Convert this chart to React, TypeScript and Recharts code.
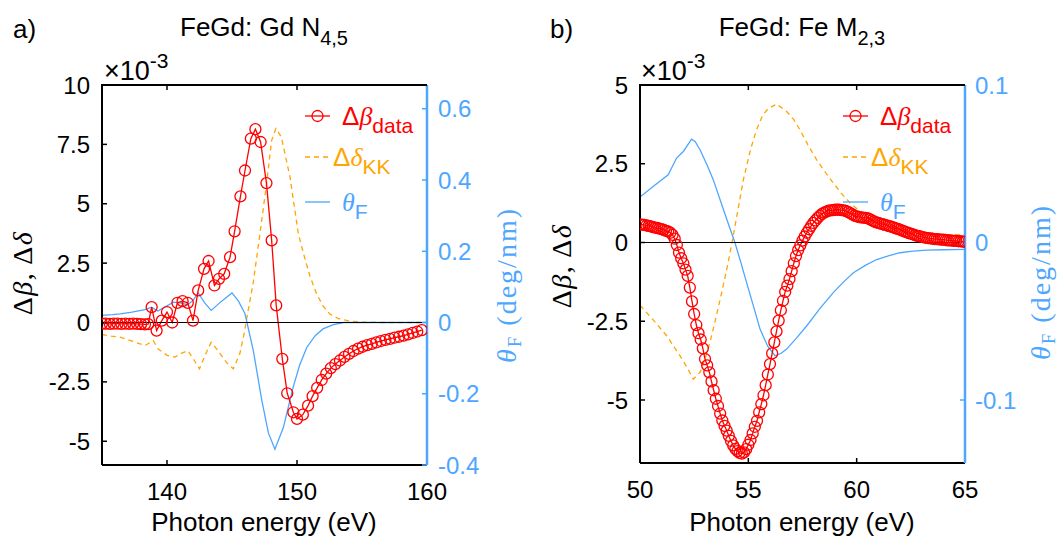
import React from 'react'
import { ComposedChart, Line, XAxis, YAxis, ReferenceLine, Legend } from 'recharts'

const RED = '#ff0000'
const ORANGE = '#ffa500'
const BLUE = '#4da6ff'
const SANS = '"Liberation Sans", Arial, Helvetica, sans-serif'
const SERIF = '"Liberation Serif", "Times New Roman", serif'

// a) FeGd: Gd N4,5 edge  [energy eV, value]
const gdBeta: [number, number][] = [
  [135.0, -0.05], [135.3, -0.05], [135.6, -0.06], [135.9, -0.05], [136.2, -0.05], [136.5, -0.06],
  [136.8, -0.05], [137.1, -0.06], [137.4, -0.05], [137.7, -0.06], [138.0, -0.07], [138.3, -0.08],
  [138.55, -0.07], [138.82, 0.65], [139.2, -0.34], [139.6, 0.08], [140.0, 0.44], [140.4, 0.0],
  [140.8, 0.83], [141.2, 0.9], [141.6, 0.83], [142.0, 0.08], [142.4, 1.35], [142.85, 2.26],
  [143.2, 2.59], [143.65, 1.56], [144.0, 1.84], [144.4, 2.05], [144.85, 2.75], [145.2, 3.84],
  [145.65, 5.31], [146.0, 6.4], [146.45, 7.74], [146.8, 8.14], [147.2, 7.6], [147.65, 5.87],
  [148.05, 3.46], [148.4, 0.72], [148.87, -1.53], [149.25, -2.98], [149.72, -3.78], [150.0, -4.06],
  [150.45, -3.88], [150.85, -3.5], [151.2, -3.1], [151.55, -2.75], [151.9, -2.42], [152.25, -2.15],
  [152.6, -1.92], [152.95, -1.75], [153.3, -1.6], [153.65, -1.45], [154.0, -1.32], [154.35, -1.2],
  [154.7, -1.1], [155.05, -1.02], [155.4, -0.95], [155.75, -0.9], [156.1, -0.84], [156.45, -0.78],
  [156.8, -0.73], [157.15, -0.69], [157.5, -0.64], [157.85, -0.6], [158.2, -0.55], [158.55, -0.5],
  [158.9, -0.44], [159.25, -0.38], [159.6, -0.32],
]
const gdKk: [number, number][] = [
  [135.0, -0.51], [135.7, -0.57], [136.4, -0.62], [137.3, -0.78], [138.3, -0.97], [138.95, -0.76],
  [139.3, -1.11], [140.0, -1.38], [140.6, -1.46], [141.1, -1.3], [141.6, -1.18], [142.1, -1.6],
  [142.5, -1.95], [142.95, -1.35], [143.4, -0.83], [143.8, -1.1], [144.1, -1.32], [144.6, -1.7],
  [145.1, -1.95], [145.6, -1.32], [145.98, -0.34], [146.13, 0.16], [146.64, 1.7], [147.15, 3.74],
  [147.67, 5.9], [148.05, 7.67], [148.38, 8.17], [148.8, 7.8], [149.46, 6.13], [150.1, 3.74],
  [150.5, 2.9], [151.0, 1.95], [151.5, 1.21], [152.0, 0.7], [152.5, 0.37], [153.2, 0.16],
  [154.1, 0.06], [155.0, 0.02], [156.5, 0.0], [158.0, 0.0], [160.0, 0.0],
]
const gdFaraday: [number, number][] = [
  [135.0, 0.02], [135.8, 0.022], [136.4, 0.0245], [137.3, 0.029], [138.3, 0.036], [138.8, 0.043],
  [139.3, 0.032], [139.9, 0.045], [140.5, 0.057], [141.0, 0.055], [141.6, 0.05], [142.0, 0.062],
  [142.4, 0.083], [142.9, 0.055], [143.4, 0.034], [144.2, 0.06], [145.0, 0.083], [145.5, 0.06],
  [146.0, 0.0245], [146.64, -0.079], [147.3, -0.22], [147.8, -0.31], [148.3, -0.356], [148.95, -0.295],
  [149.7, -0.182], [150.2, -0.12], [150.75, -0.07], [151.4, -0.037], [152.0, -0.018], [152.8, -0.006],
  [153.6, 0.0], [155.0, 0.0], [157.0, 0.0], [160.0, 0.0],
]
const gdXTicks = [140, 150, 160]
const gdLeftTicks = [-5, -2.5, 0, 2.5, 5, 7.5, 10]
const gdRightTicks = [-0.4, -0.2, 0, 0.2, 0.4, 0.6]

// b) FeGd: Fe M2,3 edge
const feBeta: [number, number][] = [
  [50.0, 0.57], [50.1, 0.57], [50.2, 0.56], [50.3, 0.54], [50.4, 0.53], [50.5, 0.51], [50.6, 0.49],
  [50.7, 0.47], [50.8, 0.46], [50.9, 0.44], [51.0, 0.42], [51.1, 0.4], [51.2, 0.37], [51.3, 0.35],
  [51.4, 0.31], [51.5, 0.24], [51.6, 0.12], [51.7, -0.08], [51.8, -0.32], [51.9, -0.5], [52.0, -0.66],
  [52.1, -0.86], [52.2, -1.06], [52.3, -1.43], [52.4, -1.87], [52.5, -2.27], [52.6, -2.62], [52.7, -2.88],
  [52.8, -3.08], [52.9, -3.36], [53.0, -3.7], [53.1, -3.9], [53.2, -4.12], [53.3, -4.41], [53.4, -4.69],
  [53.5, -4.96], [53.6, -5.19], [53.7, -5.43], [53.8, -5.65], [53.9, -5.82], [54.0, -5.97], [54.1, -6.14],
  [54.2, -6.3], [54.3, -6.44], [54.4, -6.55], [54.5, -6.62], [54.6, -6.68], [54.7, -6.7], [54.8, -6.66],
  [54.9, -6.56], [55.0, -6.42], [55.1, -6.27], [55.2, -6.06], [55.3, -5.85], [55.4, -5.66], [55.5, -5.39],
  [55.6, -5.13], [55.7, -4.85], [55.8, -4.53], [55.9, -4.19], [56.0, -3.86], [56.1, -3.52], [56.2, -3.17],
  [56.3, -2.82], [56.4, -2.48], [56.5, -2.15], [56.6, -1.85], [56.7, -1.57], [56.8, -1.37], [56.9, -1.16],
  [57.0, -0.91], [57.1, -0.66], [57.2, -0.43], [57.3, -0.24], [57.4, -0.09], [57.5, 0.06], [57.6, 0.19],
  [57.7, 0.31], [57.8, 0.42], [57.9, 0.53], [58.0, 0.62], [58.1, 0.7], [58.2, 0.78], [58.3, 0.85],
  [58.4, 0.91], [58.5, 0.95], [58.6, 0.98], [58.7, 1.01], [58.8, 1.02], [58.9, 1.03], [59.0, 1.04],
  [59.1, 1.04], [59.2, 1.04], [59.3, 1.03], [59.4, 1.02], [59.5, 1.0], [59.6, 0.97], [59.7, 0.93],
  [59.8, 0.89], [59.9, 0.85], [60.0, 0.83], [60.1, 0.81], [60.2, 0.8], [60.3, 0.79], [60.4, 0.78],
  [60.5, 0.77], [60.6, 0.74], [60.7, 0.7], [60.8, 0.67], [60.9, 0.64], [61.0, 0.62], [61.1, 0.6],
  [61.2, 0.58], [61.3, 0.56], [61.4, 0.54], [61.5, 0.52], [61.6, 0.5], [61.7, 0.48], [61.8, 0.45],
  [61.9, 0.43], [62.0, 0.41], [62.1, 0.38], [62.2, 0.35], [62.3, 0.33], [62.4, 0.3], [62.5, 0.28],
  [62.6, 0.26], [62.7, 0.23], [62.8, 0.21], [62.9, 0.2], [63.0, 0.18], [63.1, 0.16], [63.2, 0.15],
  [63.3, 0.14], [63.4, 0.13], [63.5, 0.12], [63.6, 0.11], [63.7, 0.11], [63.8, 0.1], [63.9, 0.09],
  [64.0, 0.09], [64.1, 0.08], [64.2, 0.07], [64.3, 0.07], [64.4, 0.06], [64.5, 0.05], [64.6, 0.05],
  [64.7, 0.04], [64.8, 0.04], [64.9, 0.03], [65.0, 0.02],
]
const feKk: [number, number][] = [
  [50.0, -1.99], [50.6, -2.45], [51.23, -2.96], [51.85, -3.6], [52.2, -4.0], [52.46, -4.34], [52.77, -4.12],
  [53.0, -3.7], [53.23, -3.17], [53.5, -2.4], [53.77, -1.59], [54.05, -0.7], [54.3, 0.2], [54.55, 1.15],
  [54.77, 1.99], [55.1, 2.95], [55.38, 3.58], [55.65, 4.02], [55.92, 4.26], [56.31, 4.39], [56.77, 4.16],
  [57.1, 3.9], [57.38, 3.58], [57.75, 3.1], [58.15, 2.63], [58.5, 2.28], [58.92, 1.89], [59.3, 1.55],
  [59.69, 1.26], [60.1, 1.02], [60.46, 0.83], [60.85, 0.72], [61.23, 0.62], [61.6, 0.54], [62.0, 0.46],
  [62.4, 0.37], [62.77, 0.28], [63.2, 0.25], [63.6, 0.25], [64.0, 0.25], [64.5, 0.25], [65.0, 0.25],
]
const feFaraday: [number, number][] = [
  [50.0, 0.0289], [50.62, 0.0357], [51.3, 0.043], [51.69, 0.0536], [52.0, 0.0578], [52.38, 0.0656],
  [52.55, 0.064], [52.77, 0.0589], [53.1, 0.049], [53.38, 0.0399], [53.85, 0.0209], [54.1, 0.011],
  [54.38, 0.0], [54.65, -0.0125], [54.92, -0.0255], [55.25, -0.041], [55.54, -0.055], [55.9, -0.066],
  [56.23, -0.0719], [56.5, -0.0705], [56.77, -0.0677], [57.2, -0.061], [57.69, -0.053], [58.3, -0.042],
  [58.92, -0.0318], [59.4, -0.025], [59.85, -0.0192], [60.4, -0.0145], [60.92, -0.0108], [61.5, -0.0083],
  [62.0, -0.0065], [62.6, -0.0055], [63.23, -0.0049], [64.0, -0.0046], [65.0, -0.0044],
]
const feXTicks = [50, 55, 60, 65]
const feLeftTicks = [-5, -2.5, 0, 2.5, 5]
const feRightTicks = [-0.1, 0, 0.1]

const rows = (pts: [number, number][]) => pts.map(([e, v]) => ({ e, v }))

const LegendBox = () => (
  <svg width={130} height={125} style={{ overflow: 'visible' }}>
    <line x1={5} x2={30} y1={21} y2={21} stroke={RED} strokeWidth={1.3} />
    <circle cx={17.5} cy={21} r={5.5} stroke={RED} strokeWidth={1.3} fill="none" />
    <text x={42} y={30} fill={RED} fontFamily={SANS} fontSize={26}>
      Δ<tspan fontFamily={SERIF} fontStyle="italic">β</tspan>
      <tspan dy={8} fontSize={21}>data</tspan>
    </text>
    <line x1={5} x2={30} y1={62} y2={62} stroke={ORANGE} strokeWidth={1.3} strokeDasharray="5 4" />
    <text x={33} y={71} fill={ORANGE} fontFamily={SANS} fontSize={26}>
      Δ<tspan fontFamily={SERIF} fontStyle="italic">δ</tspan>
      <tspan dy={8} fontSize={21}>KK</tspan>
    </text>
    <line x1={5} x2={30} y1={107} y2={107} stroke={BLUE} strokeWidth={1.3} />
    <text x={42} y={116} fill={BLUE} fontFamily={SANS} fontSize={26}>
      <tspan fontFamily={SERIF} fontStyle="italic">θ</tspan>
      <tspan dy={8} fontSize={21}>F</tspan>
    </text>
  </svg>
)

type PanelProps = {
  left: number
  margin: { top: number; right: number; bottom: number; left: number }
  xDomain: [number, number]
  xTicks: number[]
  leftDomain: [number, number]
  leftTicks: number[]
  rightDomain: [number, number]
  rightTicks: number[]
  beta: [number, number][]
  kk: [number, number][]
  faraday: [number, number][]
  legendLeft: number
  rightMargin: number
}

const Panel = (p: PanelProps) => (
  <div style={{ position: 'absolute', left: p.left, top: 0 }}>
    <ComposedChart width={530} height={541} margin={p.margin}>
      <XAxis
        xAxisId="b"
        dataKey="e"
        type="number"
        domain={p.xDomain}
        ticks={p.xTicks}
        allowDataOverflow
        interval={0}
        height={30}
        stroke="#000"
        axisLine={{ strokeWidth: 2 }}
        tickLine={{ strokeWidth: 1.5 }}
        tickSize={-5}
        tickMargin={23}
        tick={{ fill: '#000', fontSize: 24, fontFamily: SANS }}
      />
      <YAxis
        yAxisId="l"
        type="number"
        domain={p.leftDomain}
        ticks={p.leftTicks}
        allowDataOverflow
        interval={0}
        width={62}
        stroke="#000"
        axisLine={{ strokeWidth: 2 }}
        tickLine={{ strokeWidth: 1.5 }}
        tickSize={-5}
        tickMargin={17}
        tick={{ fill: '#000', fontSize: 24, fontFamily: SANS }}
      />
      <YAxis
        yAxisId="r"
        orientation="right"
        type="number"
        domain={p.rightDomain}
        ticks={p.rightTicks}
        allowDataOverflow
        interval={0}
        width={60}
        stroke={BLUE}
        axisLine={{ strokeWidth: 2.5 }}
        tickLine={{ strokeWidth: 1.5 }}
        tickSize={-5}
        tickMargin={p.rightMargin}
        tick={{ fill: BLUE, fontSize: 24, fontFamily: SANS }}
      />
      <Line
        xAxisId="b"
        yAxisId="l"
        data={rows(p.kk)}
        dataKey="v"
        type="linear"
        stroke={ORANGE}
        strokeWidth={1.3}
        strokeDasharray="5 4"
        dot={false}
        activeDot={false}
        isAnimationActive={false}
      />
      <Line
        xAxisId="b"
        yAxisId="r"
        data={rows(p.faraday)}
        dataKey="v"
        type="linear"
        stroke={BLUE}
        strokeWidth={1.3}
        dot={false}
        activeDot={false}
        isAnimationActive={false}
      />
      <Line
        xAxisId="b"
        yAxisId="l"
        data={rows(p.beta)}
        dataKey="v"
        type="linear"
        stroke={RED}
        strokeWidth={1.3}
        dot={{ r: 5.5, stroke: RED, strokeWidth: 1.3, fill: 'none' }}
        activeDot={false}
        isAnimationActive={false}
      />
      <ReferenceLine xAxisId="b" yAxisId="l" y={0} stroke="#000" strokeWidth={1.2} />
      <Legend
        layout="vertical"
        align="center"
        verticalAlign="middle"
        content={() => <LegendBox />}
        wrapperStyle={{ left: p.legendLeft, top: 95, width: 130, height: 125 }}
      />
    </ComposedChart>
  </div>
)

// top frame edge of each box, with inward tick marks at the x ticks
const TopFrame = ({ x0, x1, y, domain, ticks }: { x0: number; x1: number; y: number; domain: [number, number]; ticks: number[] }) => (
  <g stroke="#000">
    <line x1={x0 - 1} x2={x1} y1={y} y2={y} strokeWidth={2} />
    {ticks.map((t) => {
      const x = x0 + ((t - domain[0]) / (domain[1] - domain[0])) * (x1 - x0)
      return <line key={t} x1={x} x2={x} y1={y} y2={y + 5} strokeWidth={1.5} />
    })}
  </g>
)

const Overlay = () => (
  <svg width={1060} height={541} style={{ position: 'absolute', left: 0, top: 0, pointerEvents: 'none' }}>
    <TopFrame x0={102} x1={427} y={85} domain={[135, 160]} ticks={[140, 150]} />
    <TopFrame x0={640} x1={965} y={85} domain={[50, 65]} ticks={[55, 60]} />
    <g fontFamily={SANS} fill="#000">
      <text x={13} y={38} fontSize={26}>a)</text>
      <text x={264} y={36} fontSize={26} textAnchor="middle">
        FeGd: Gd N<tspan dy={9} fontSize={20}>4,5</tspan>
      </text>
      <text x={104} y={80} fontSize={27}>
        ×10<tspan dy={-12} fontSize={21}>-3</tspan>
      </text>
      <text x={264} y={531} fontSize={26} textAnchor="middle">Photon energy (eV)</text>

      <text x={550} y={38} fontSize={26}>b)</text>
      <text x={802} y={36} fontSize={26} textAnchor="middle">
        FeGd: Fe M<tspan dy={9} fontSize={20}>2,3</tspan>
      </text>
      <text x={641} y={80} fontSize={27}>
        ×10<tspan dy={-12} fontSize={21}>-3</tspan>
      </text>
      <text x={802} y={531} fontSize={26} textAnchor="middle">Photon energy (eV)</text>
    </g>
    <g fontFamily={SERIF} fontSize={28}>
      <text transform="translate(32,273) rotate(-90)" textAnchor="middle" fill="#000" letterSpacing={1.5}>
        Δ<tspan fontStyle="italic">β</tspan>, Δ<tspan fontStyle="italic">δ</tspan>
      </text>
      <text transform="translate(571,266) rotate(-90)" textAnchor="middle" fill="#000" letterSpacing={1.5}>
        Δ<tspan fontStyle="italic">β</tspan>, Δ<tspan fontStyle="italic">δ</tspan>
      </text>
      <text transform="translate(516,285) rotate(-90)" textAnchor="middle" fill={BLUE} letterSpacing={2}>
        <tspan fontStyle="italic">θ</tspan>
        <tspan dy={5} fontSize={19}>F</tspan>
        <tspan dy={-5}> (deg/nm)</tspan>
      </text>
      <text transform="translate(1050,282) rotate(-90)" textAnchor="middle" fill={BLUE} letterSpacing={2}>
        <tspan fontStyle="italic">θ</tspan>
        <tspan dy={5} fontSize={19}>F</tspan>
        <tspan dy={-5}> (deg/nm)</tspan>
      </text>
    </g>
  </svg>
)

export default function App() {
  return (
    <div style={{ position: 'absolute', left: 0, top: 0, width: 1060, height: 541, background: '#fff', overflow: 'hidden' }}>
      <Panel
        left={0}
        margin={{ top: 85, right: 43, bottom: 46, left: 40 }}
        xDomain={[135, 160]}
        xTicks={gdXTicks}
        leftDomain={[-6, 10]}
        leftTicks={gdLeftTicks}
        rightDomain={[-0.4, 0.6667]}
        rightTicks={gdRightTicks}
        beta={gdBeta}
        kk={gdKk}
        faraday={gdFaraday}
        legendLeft={300}
        rightMargin={16}
      />
      <Panel
        left={530}
        margin={{ top: 85, right: 35, bottom: 48, left: 48 }}
        xDomain={[50, 65]}
        xTicks={feXTicks}
        leftDomain={[-7, 5]}
        leftTicks={feLeftTicks}
        rightDomain={[-0.14, 0.1]}
        rightTicks={feRightTicks}
        beta={feBeta}
        kk={feKk}
        faraday={feFaraday}
        legendLeft={308}
        rightMargin={15}
      />
      <Overlay />
    </div>
  )
}
